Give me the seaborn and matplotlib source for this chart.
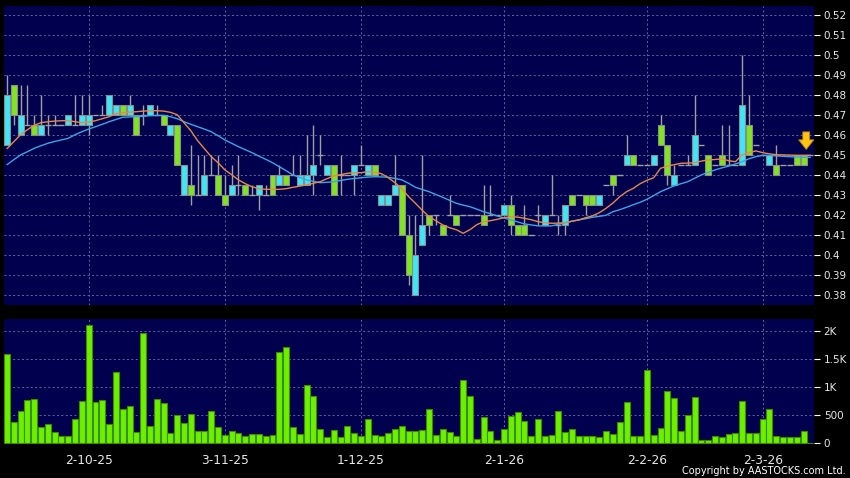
import numpy as np
import pandas as pd
import matplotlib
matplotlib.use("Agg")
import matplotlib.pyplot as plt
import seaborn as sns

# ---------------- data ----------------
date_tick_idx = [12, 32, 52, 73, 94, 111]
date_labels = ["2-10-25", "3-11-25", "1-12-25", "2-1-26", "2-2-26", "2-3-26"]

open_ = [0.455, 0.485, 0.46, 0.465, 0.465, 0.46, 0.465, 0.465, 0.465, 0.465,
         0.465, 0.465, 0.465, 0.47, 0.47, 0.47, 0.47, 0.475, 0.47, 0.47,
         0.47, 0.47, 0.47, 0.47, 0.46, 0.465, 0.43, 0.435, 0.43, 0.43,
         0.44, 0.44, 0.43, 0.43, 0.435, 0.435, 0.43, 0.43, 0.43, 0.44,
         0.435, 0.44, 0.44, 0.435, 0.435, 0.44, 0.45, 0.44, 0.445, 0.44,
         0.44, 0.44, 0.445, 0.44, 0.445, 0.425, 0.425, 0.43, 0.435, 0.41,
         0.38, 0.405, 0.42, 0.42, 0.415, 0.42, 0.42, 0.42, 0.42, 0.42,
         0.42, 0.42, 0.42, 0.42, 0.425, 0.415, 0.415, 0.41, 0.42, 0.415,
         0.42, 0.415, 0.415, 0.43, 0.43, 0.43, 0.43, 0.425, 0.435, 0.44,
         0.44, 0.445, 0.45, 0.445, 0.445, 0.445, 0.465, 0.455, 0.435, 0.445,
         0.445, 0.445, 0.455, 0.45, 0.445, 0.45, 0.445, 0.445, 0.445, 0.465,
         0.455, 0.45, 0.445, 0.445, 0.445, 0.445, 0.45, 0.45, 0.45]
high = [0.49, 0.485, 0.485, 0.485, 0.47, 0.48, 0.47, 0.47, 0.465, 0.47,
        0.48, 0.48, 0.48, 0.47, 0.475, 0.48, 0.475, 0.475, 0.48, 0.47,
        0.475, 0.475, 0.475, 0.47, 0.465, 0.465, 0.445, 0.455, 0.45, 0.45,
        0.45, 0.45, 0.44, 0.445, 0.45, 0.435, 0.435, 0.435, 0.435, 0.44,
        0.445, 0.44, 0.45, 0.45, 0.46, 0.465, 0.46, 0.445, 0.445, 0.45,
        0.44, 0.445, 0.455, 0.445, 0.445, 0.43, 0.43, 0.45, 0.435, 0.42,
        0.42, 0.45, 0.42, 0.42, 0.415, 0.43, 0.42, 0.42, 0.42, 0.42,
        0.435, 0.435, 0.42, 0.425, 0.43, 0.415, 0.425, 0.41, 0.425, 0.42,
        0.44, 0.42, 0.425, 0.43, 0.43, 0.43, 0.43, 0.43, 0.435, 0.44,
        0.44, 0.46, 0.45, 0.445, 0.445, 0.45, 0.47, 0.455, 0.445, 0.445,
        0.45, 0.48, 0.455, 0.45, 0.445, 0.465, 0.465, 0.445, 0.50, 0.48,
        0.455, 0.45, 0.45, 0.455, 0.445, 0.445, 0.45, 0.45, 0.45]
low = [0.455, 0.465, 0.46, 0.465, 0.46, 0.46, 0.46, 0.465, 0.465, 0.465,
       0.465, 0.465, 0.46, 0.47, 0.47, 0.47, 0.47, 0.47, 0.47, 0.46,
       0.465, 0.47, 0.47, 0.465, 0.46, 0.445, 0.43, 0.425, 0.43, 0.43,
       0.44, 0.43, 0.425, 0.43, 0.43, 0.43, 0.43, 0.4225, 0.43, 0.43,
       0.435, 0.435, 0.44, 0.435, 0.435, 0.43, 0.445, 0.44, 0.43, 0.43,
       0.44, 0.43, 0.445, 0.44, 0.44, 0.425, 0.425, 0.43, 0.41, 0.385,
       0.38, 0.405, 0.41, 0.415, 0.41, 0.42, 0.415, 0.42, 0.42, 0.42,
       0.415, 0.42, 0.42, 0.42, 0.41, 0.41, 0.41, 0.41, 0.415, 0.415,
       0.42, 0.41, 0.41, 0.425, 0.43, 0.42, 0.425, 0.425, 0.435, 0.43,
       0.44, 0.445, 0.445, 0.445, 0.445, 0.445, 0.455, 0.435, 0.435, 0.445,
       0.445, 0.445, 0.455, 0.44, 0.445, 0.445, 0.445, 0.445, 0.445, 0.45,
       0.455, 0.45, 0.445, 0.44, 0.445, 0.445, 0.445, 0.445, 0.45]
close = [0.48, 0.47, 0.47, 0.465, 0.46, 0.465, 0.465, 0.465, 0.465, 0.47,
         0.465, 0.47, 0.47, 0.47, 0.47, 0.48, 0.475, 0.47, 0.475, 0.46,
         0.47, 0.475, 0.47, 0.465, 0.465, 0.445, 0.445, 0.43, 0.43, 0.44,
         0.44, 0.43, 0.425, 0.435, 0.435, 0.43, 0.43, 0.435, 0.43, 0.43,
         0.44, 0.435, 0.44, 0.44, 0.44, 0.445, 0.45, 0.445, 0.43, 0.44,
         0.44, 0.445, 0.445, 0.445, 0.44, 0.43, 0.43, 0.435, 0.41, 0.39,
         0.40, 0.415, 0.415, 0.42, 0.41, 0.42, 0.415, 0.42, 0.42, 0.42,
         0.415, 0.42, 0.42, 0.425, 0.415, 0.41, 0.41, 0.41, 0.42, 0.42,
         0.42, 0.415, 0.425, 0.425, 0.43, 0.425, 0.425, 0.43, 0.435, 0.435,
         0.44, 0.45, 0.445, 0.445, 0.445, 0.45, 0.455, 0.44, 0.44, 0.445,
         0.445, 0.46, 0.455, 0.44, 0.445, 0.445, 0.445, 0.445, 0.475, 0.45,
         0.455, 0.45, 0.45, 0.44, 0.445, 0.445, 0.445, 0.445, 0.45]

volume = [1595, 387, 583, 780, 791, 298, 345, 196, 125, 125,
          434, 756, 2112, 744, 768, 339, 1279, 613, 672, 196,
          1970, 309, 785, 720, 184, 512, 357, 530, 220, 220,
          571, 292, 155, 220, 178, 125, 161, 167, 137, 143,
          1624, 1725, 298, 167, 1035, 851, 250, 119, 238, 107,
          309, 190, 125, 440, 143, 131, 190, 262, 303, 226,
          214, 232, 607, 143, 250, 202, 125, 1130, 839, 83,
          476, 226, 54, 256, 482, 559, 393, 125, 428, 137,
          155, 571, 202, 256, 125, 131, 131, 113, 226, 167,
          375, 744, 131, 131, 1309, 143, 274, 928, 803, 214,
          506, 833, 60, 60, 137, 113, 167, 190, 756, 190,
          184, 434, 619, 131, 119, 119, 119, 226, 10]

ma_fast = [0.453, 0.4565, 0.46, 0.4625, 0.4647, 0.466, 0.4665, 0.4668, 0.467, 0.467,
           0.4665, 0.466, 0.4663, 0.467, 0.468, 0.469, 0.4705, 0.471, 0.4713, 0.4715,
           0.4718, 0.472, 0.472, 0.4718, 0.4712, 0.470, 0.466, 0.462, 0.457, 0.453,
           0.449, 0.446, 0.4424, 0.440, 0.4374, 0.4355, 0.434, 0.433, 0.4327, 0.4327,
           0.4327, 0.433, 0.4337, 0.4343, 0.4349, 0.4357, 0.4365, 0.438, 0.4394, 0.440,
           0.4407, 0.441, 0.441, 0.4415, 0.4412, 0.4405, 0.4385, 0.436, 0.433, 0.429,
           0.4257, 0.4222, 0.419, 0.417, 0.4149, 0.4135, 0.4125, 0.4107, 0.4125, 0.415,
           0.4165, 0.417, 0.4177, 0.4185, 0.419, 0.4188, 0.4182, 0.4175, 0.4165, 0.416,
           0.4157, 0.4158, 0.416, 0.4168, 0.4174, 0.4185, 0.4194, 0.421, 0.4232, 0.4258,
           0.429, 0.4315, 0.4332, 0.4355, 0.4372, 0.4385, 0.4432, 0.4443, 0.445, 0.4457,
           0.4458, 0.446, 0.4468, 0.4474, 0.4476, 0.4479, 0.447, 0.4465, 0.450, 0.451,
           0.4519, 0.451, 0.4504, 0.450, 0.4499, 0.4498, 0.4497, 0.4497, 0.4497]
ma_slow = [0.445, 0.4475, 0.4499, 0.4515, 0.4532, 0.4545, 0.4557, 0.4566, 0.4574, 0.4582,
           0.460, 0.4615, 0.4628, 0.464, 0.4652, 0.4665, 0.4676, 0.4687, 0.4689, 0.469,
           0.4692, 0.4695, 0.4696, 0.4697, 0.469, 0.468, 0.4665, 0.4652, 0.464, 0.4628,
           0.4615, 0.4595, 0.4574, 0.4557, 0.454, 0.4525, 0.451, 0.4493, 0.4477, 0.446,
           0.444, 0.442, 0.4399, 0.4386, 0.4374, 0.4367, 0.436, 0.4362, 0.4365, 0.4371,
           0.4377, 0.4381, 0.4385, 0.4388, 0.439, 0.4389, 0.4387, 0.4381, 0.4374, 0.4357,
           0.4337, 0.4326, 0.4315, 0.4301, 0.4287, 0.4272, 0.4257, 0.4248, 0.424, 0.4228,
           0.4215, 0.4205, 0.4194, 0.4184, 0.4174, 0.4164, 0.4154, 0.4149, 0.4144, 0.4144,
           0.4144, 0.4152, 0.416, 0.4167, 0.4174, 0.418, 0.4187, 0.4192, 0.4197, 0.4215,
           0.4225, 0.4237, 0.425, 0.4262, 0.4277, 0.4296, 0.4315, 0.433, 0.4344, 0.4355,
           0.4365, 0.4382, 0.4399, 0.4412, 0.4424, 0.4434, 0.4443, 0.4454, 0.4465, 0.448,
           0.449, 0.4497, 0.4496, 0.4494, 0.4492, 0.449, 0.4488, 0.4487, 0.4487]

price_ticks = [0.38, 0.39, 0.40, 0.41, 0.42, 0.43, 0.44, 0.45, 0.46, 0.47,
               0.48, 0.49, 0.50, 0.51, 0.52]
price_tick_labels = ["0.38", "0.39", "0.4", "0.41", "0.42", "0.43", "0.44", "0.45",
                     "0.46", "0.47", "0.48", "0.49", "0.5", "0.51", "0.52"]
vol_ticks = [0, 500, 1000, 1500, 2000]
vol_tick_labels = ["0", "500", "1K", "1.5K", "2K"]

# ---------------- style ----------------
NAVY = "#00004f"
CYAN = "#3ee6f6"
GREEN = "#80e41e"
VOLG = "#6cf000"
EDGE = "#8c8c8c"
GRID = "#66669a"
TXT = "#e8e8e8"

sns.set_style("dark")
plt.rcParams["font.family"] = ["DejaVu Sans"]

df = pd.DataFrame({"idx": np.arange(len(close)), "open": open_, "high": high,
                   "low": low, "close": close, "volume": volume,
                   "ma_fast": ma_fast, "ma_slow": ma_slow})

W, H = 850, 478
fig = plt.figure(figsize=(W / 100, H / 100), dpi=100, facecolor="black")
ax_p = fig.add_axes([4 / W, 1 - 305 / H, 810 / W, 299 / H])
ax_v = fig.add_axes([4 / W, 1 - 444 / H, 810 / W, 125 / H])

xlim = (-0.44, len(close) - 1 + 0.54)
bw = 0.88

for ax in (ax_p, ax_v):
    ax.set_facecolor(NAVY)
    for s in ax.spines.values():
        s.set_visible(False)
    ax.grid(True, color=GRID, linestyle=(0, (2, 2.5)), linewidth=0.7)
    ax.set_axisbelow(True)

# ---- price panel ----
up = df[df.close > df.open]
dn = df[df.close < df.open]
dj = df[df.close == df.open]

ax_p.vlines(df.idx, df.low, df.high, color="#a0a0a0", linewidth=1, zorder=2)
ax_p.hlines(dj.open, dj.idx - bw / 2, dj.idx + bw / 2, color="#a0a0a0",
            linewidth=1, zorder=2)
ax_p.bar(up.idx, up.close - up.open, bottom=up.open, width=bw, color=CYAN,
         edgecolor=EDGE, linewidth=0.8, zorder=3)
ax_p.bar(dn.idx, dn.open - dn.close, bottom=dn.close, width=bw, color=GREEN,
         edgecolor=EDGE, linewidth=0.8, zorder=3)

sns.lineplot(data=df, x="idx", y="ma_slow", ax=ax_p, color="#3aa6e6",
             linewidth=1.0, zorder=4)
sns.lineplot(data=df, x="idx", y="ma_fast", ax=ax_p, color="#e8874a",
             linewidth=1.0, zorder=5)

last = len(close) - 1
ax_p.annotate("", xy=(last - 0.6, close[-1] + 0.0012),
              xytext=(last - 0.6, close[-1] + 0.0128),
              arrowprops=dict(arrowstyle="simple,head_length=0.7,head_width=1.1,tail_width=0.5",
                              mutation_scale=10, facecolor="#ffc414",
                              edgecolor="#b07a00", linewidth=0.6), zorder=6)

ax_p.set_xlim(*xlim)
ax_p.set_ylim(0.37485, 0.52435)
ax_p.set_xticks(date_tick_idx)
ax_p.set_xticklabels([])
ax_p.set_yticks(price_ticks)
ax_p.set_yticklabels(price_tick_labels)
ax_p.yaxis.tick_right()
ax_p.tick_params(axis="x", length=0)
ax_p.tick_params(axis="y", colors="white", labelcolor=TXT, length=4,
                 width=0.8, labelsize=7.5, pad=3)
ax_p.set_xlabel("")
ax_p.set_ylabel("")

# ---- volume panel ----
sns.barplot(data=df, x="idx", y="volume", ax=ax_v, native_scale=True,
            color=VOLG, edgecolor="#3a8c00", linewidth=0.8, width=bw,
            saturation=1, errorbar=None)
ax_v.set_xlim(*xlim)
ax_v.set_ylim(-12, 2220)
ax_v.set_xticks(date_tick_idx)
ax_v.set_xticklabels(date_labels)
ax_v.set_yticks(vol_ticks)
ax_v.set_yticklabels(vol_tick_labels)
ax_v.yaxis.tick_right()
ax_v.tick_params(axis="y", colors="white", labelcolor=TXT, length=4,
                 width=0.8, labelsize=7.5, pad=3)
ax_v.tick_params(axis="x", colors="white", labelcolor=TXT, length=4,
                 width=0.8, labelsize=8.8, pad=3)
ax_v.set_xlabel("")
ax_v.set_ylabel("")

fig.text(846 / W, 1 - 476 / H, "Copyright by AASTOCKS.com Ltd.", ha="right",
         va="bottom", color="white", fontsize=7)

fig.savefig("out.png", dpi=100, facecolor="black")
